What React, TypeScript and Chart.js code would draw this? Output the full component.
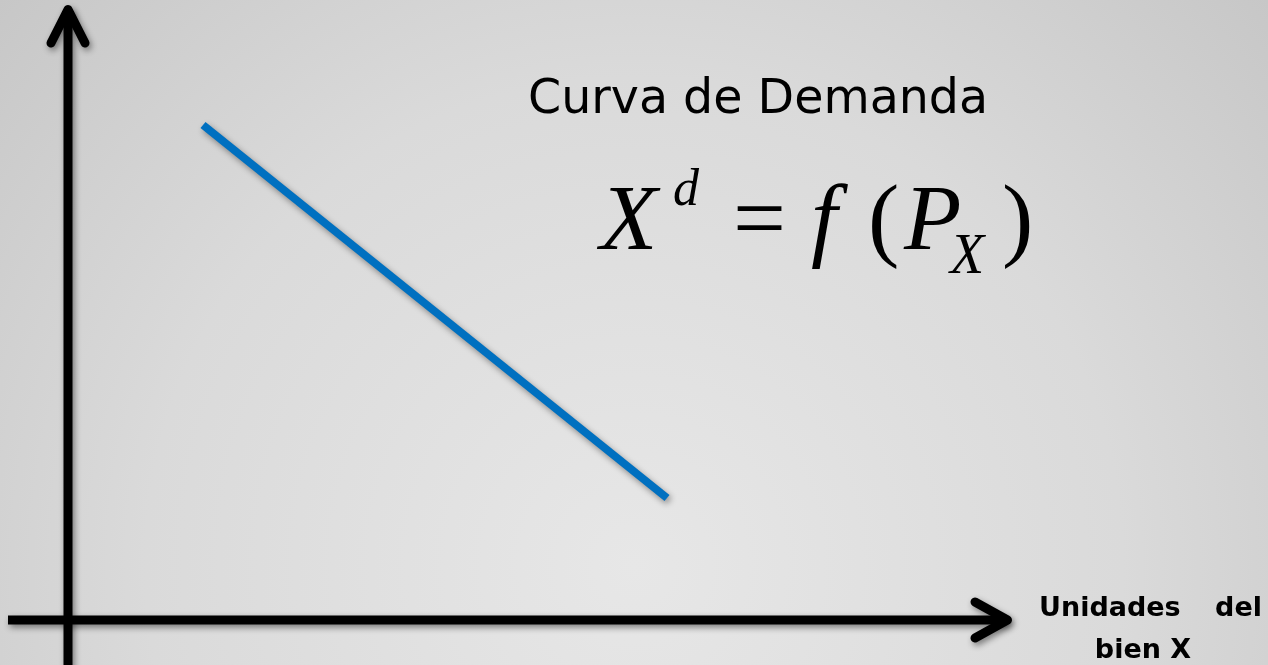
import React, { useEffect, useRef } from "react";
import { Chart, registerables } from "chart.js";

Chart.register(...registerables);

const WIDTH = 1268;
const HEIGHT = 665;

// Scale ranges (data units, origin = where the two axes cross)
const xScaleRange = [-0.68, 12.0];
const yScaleRange = [-0.45, 6.2];

// Demand curve: quantity (x) and price (y) of its two end points
const demandQuantity = [1.35, 5.99];
const demandPrice = [4.95, 1.22];

// Extents of the drawn axes (data units)
const horizontalAxisExtent = [-0.6, 9.44];
const verticalAxisExtent = [-0.45, 6.15];

// Texts
const titleText = "Curva de Demanda";
const xLabelWords = ["Unidades", "del"];
const xLabelSecondLine = "bien X";

// Text anchors (data units)
const titleAnchor = [4.6, 5.07];
const formulaAnchor = [5.32, 3.71];
const xLabelAnchorLeft = [9.71, 0.04];
const xLabelAnchorRight = [11.94, 0.04];
const xLabelSecondAnchor = [10.75, -0.38];

const SERIF = '"Liberation Serif", "Times New Roman", serif';
const SANS = '"DejaVu Sans", Verdana, sans-serif';

const slidePlugin = {
  id: "slideDecor",
  beforeDraw(chart: any) {
    const { ctx, width, height } = chart;
    ctx.save();
    const cx = width * 0.5;
    const cy = height * 0.85;
    const g = ctx.createRadialGradient(cx, cy, 0, cx, cy, width * 0.7);
    g.addColorStop(0, "#e7e7e7");
    g.addColorStop(0.55, "#dadada");
    g.addColorStop(1, "#c5c5c5");
    ctx.fillStyle = g;
    ctx.fillRect(0, 0, width, height);
    ctx.restore();

    const xs = chart.scales.x;
    const ys = chart.scales.y;
    const x0 = xs.getPixelForValue(0);
    const y0 = ys.getPixelForValue(0);

    ctx.save();
    ctx.strokeStyle = "#000";
    ctx.lineWidth = 9;
    ctx.shadowColor = "rgba(0,0,0,0.45)";
    ctx.shadowBlur = 6;
    ctx.shadowOffsetX = 2;
    ctx.shadowOffsetY = 3;

    // vertical axis
    const vyBottom = ys.getPixelForValue(verticalAxisExtent[0]);
    const vyTop = ys.getPixelForValue(verticalAxisExtent[1]);
    ctx.lineCap = "butt";
    ctx.beginPath();
    ctx.moveTo(x0, vyBottom + 10);
    ctx.lineTo(x0, vyTop + 4.5);
    ctx.stroke();
    ctx.lineCap = "round";
    ctx.lineJoin = "round";
    ctx.beginPath();
    ctx.moveTo(x0 - 17, vyTop + 38);
    ctx.lineTo(x0, vyTop + 4.5);
    ctx.lineTo(x0 + 17, vyTop + 38);
    ctx.stroke();

    // horizontal axis
    const hxLeft = xs.getPixelForValue(horizontalAxisExtent[0]);
    const hxRight = xs.getPixelForValue(horizontalAxisExtent[1]);
    ctx.lineCap = "butt";
    ctx.beginPath();
    ctx.moveTo(hxLeft, y0);
    ctx.lineTo(hxRight - 4.5, y0);
    ctx.stroke();
    ctx.lineCap = "round";
    ctx.beginPath();
    ctx.moveTo(hxRight - 37, y0 - 18);
    ctx.lineTo(hxRight - 4.5, y0);
    ctx.lineTo(hxRight - 37, y0 + 18);
    ctx.stroke();
    ctx.restore();
  },
  beforeDatasetsDraw(chart: any) {
    const ctx = chart.ctx;
    ctx.save();
    ctx.shadowColor = "rgba(0,0,0,0.4)";
    ctx.shadowBlur = 6;
    ctx.shadowOffsetX = 2;
    ctx.shadowOffsetY = 3;
  },
  afterDatasetsDraw(chart: any) {
    const ctx = chart.ctx;
    ctx.restore();
    const xs = chart.scales.x;
    const ys = chart.scales.y;
    const px = (v: number) => xs.getPixelForValue(v);
    const py = (v: number) => ys.getPixelForValue(v);

    ctx.save();
    ctx.fillStyle = "#000";
    ctx.textBaseline = "alphabetic";

    // title
    ctx.textAlign = "left";
    ctx.font = `47.5px ${SANS}`;
    ctx.fillText(titleText, px(titleAnchor[0]), py(titleAnchor[1]));

    // formula X^d = f(P_X)
    const fx = px(formulaAnchor[0]);
    const fy = py(formulaAnchor[1]);
    const pieces = [
      { t: "X", f: `italic 94px ${SERIF}`, dx: 0, dy: 0 },
      { t: "d", f: `italic 52px ${SERIF}`, dx: 73, dy: -44 },
      { t: "=", f: `94px ${SERIF}`, dx: 133, dy: 0 },
      { t: "f", f: `italic 94px ${SERIF}`, dx: 211, dy: 0 },
      { t: "(", f: `94px ${SERIF}`, dx: 268, dy: 0 },
      { t: "P", f: `italic 94px ${SERIF}`, dx: 304, dy: 0 },
      { t: "X", f: `italic 56px ${SERIF}`, dx: 350, dy: 24 },
      { t: ")", f: `94px ${SERIF}`, dx: 402, dy: 0 },
    ];
    for (const p of pieces) {
      ctx.font = p.f;
      ctx.fillText(p.t, fx + p.dx, fy + p.dy);
    }

    // axis label
    ctx.font = `bold 27px ${SANS}`;
    ctx.textAlign = "left";
    ctx.fillText(xLabelWords[0], px(xLabelAnchorLeft[0]), py(xLabelAnchorLeft[1]));
    ctx.textAlign = "right";
    ctx.fillText(xLabelWords[1], px(xLabelAnchorRight[0]), py(xLabelAnchorRight[1]));
    ctx.textAlign = "center";
    ctx.fillText(xLabelSecondLine, px(xLabelSecondAnchor[0]), py(xLabelSecondAnchor[1]));
    ctx.restore();
  },
};

export default function App() {
  const canvasRef = useRef<HTMLCanvasElement | null>(null);

  useEffect(() => {
    document.body.style.margin = "0";
    const canvas = canvasRef.current;
    if (!canvas) return;
    const chart = new Chart(canvas, {
      type: "scatter",
      data: {
        datasets: [
          {
            label: "Demanda",
            data: demandQuantity.map((q, i) => ({ x: q, y: demandPrice[i] })),
            showLine: true,
            borderColor: "#0070C0",
            backgroundColor: "#0070C0",
            borderWidth: 8,
            borderCapStyle: "butt",
            pointRadius: 0,
            pointHoverRadius: 0,
            tension: 0,
          },
        ],
      },
      options: {
        responsive: false,
        animation: false,
        events: [],
        layout: { padding: 0 },
        plugins: {
          legend: { display: false },
          tooltip: { enabled: false },
          title: { display: false },
        },
        scales: {
          x: { type: "linear", min: xScaleRange[0], max: xScaleRange[1], display: false },
          y: { type: "linear", min: yScaleRange[0], max: yScaleRange[1], display: false },
        },
      },
      plugins: [slidePlugin],
    } as any);
    return () => chart.destroy();
  }, []);

  return (
    <div style={{ position: "fixed", left: 0, top: 0, width: WIDTH, height: HEIGHT }}>
      <canvas ref={canvasRef} width={WIDTH} height={HEIGHT} style={{ display: "block" }} />
    </div>
  );
}
